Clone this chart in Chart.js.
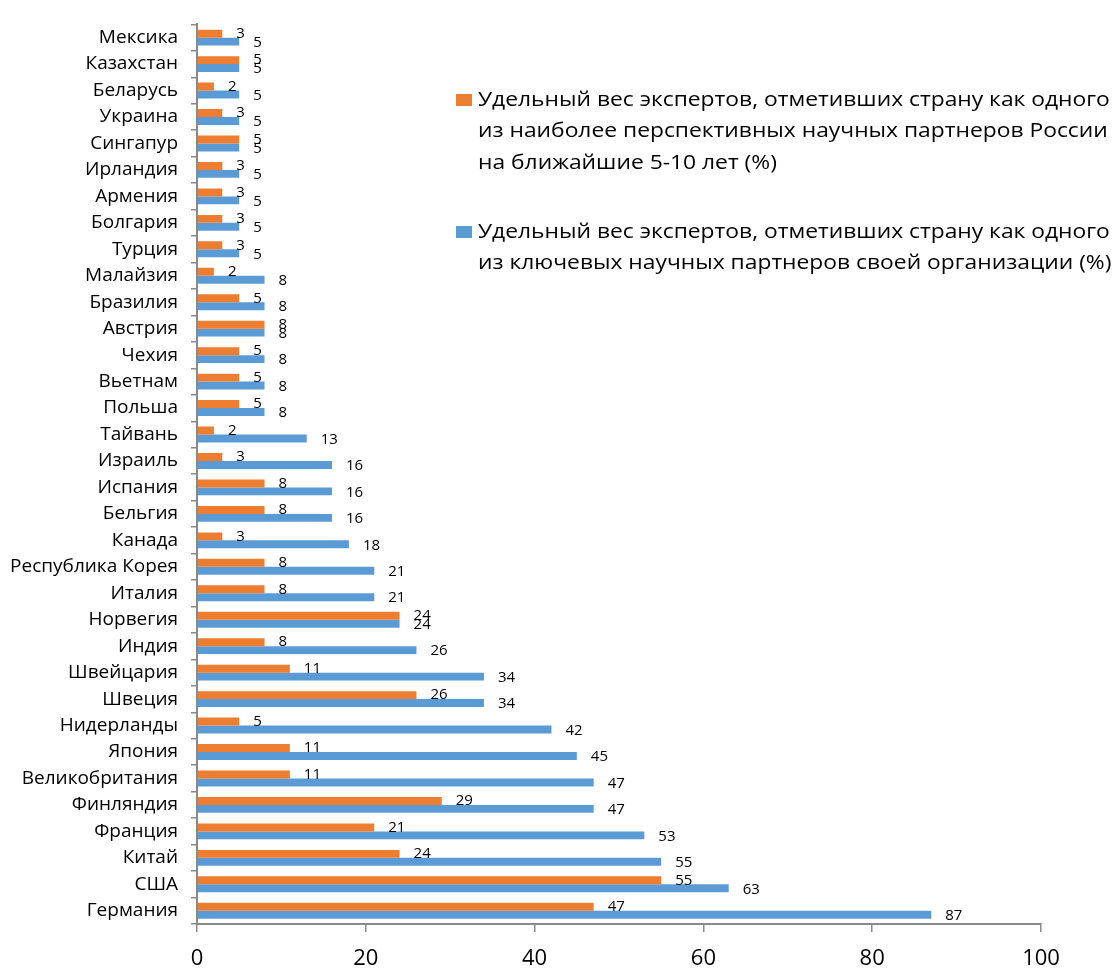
<!DOCTYPE html>
<html>
<head>
<meta charset="utf-8">
<script src="https://cdn.jsdelivr.net/npm/chart.js@4/dist/chart.umd.min.js"></script>
<style>
  html, body { margin: 0; padding: 0; background: #fff; }
  #wrap { width: 1118px; height: 969px; }
</style>
</head>
<body>
<div id="wrap"><canvas id="chart" width="1118" height="969"></canvas></div>
<script>
// countries, top to bottom
var countries = ["Мексика", "Казахстан", "Беларусь", "Украина", "Сингапур", "Ирландия", "Армения",
  "Болгария", "Турция", "Малайзия", "Бразилия", "Австрия", "Чехия", "Вьетнам", "Польша", "Тайвань",
  "Израиль", "Испания", "Бельгия", "Канада", "Республика Корея", "Италия", "Норвегия", "Индия",
  "Швейцария", "Швеция", "Нидерланды", "Япония", "Великобритания", "Финляндия", "Франция", "Китай",
  "США", "Германия"];

// orange: promising partners of Russia for the next 5-10 years (%)
var perspective = [3, 5, 2, 3, 5, 3, 3, 3, 3, 2, 5, 8, 5, 5, 5, 2, 3, 8, 8, 3, 8, 8, 24, 8,
  11, 26, 5, 11, 11, 29, 21, 24, 55, 47];

// blue: key partners of own organisation (%)
var keyPartners = [5, 5, 5, 5, 5, 5, 5, 5, 5, 8, 8, 8, 8, 8, 8, 13, 16, 16, 16, 18, 21, 21, 24, 26,
  34, 34, 42, 45, 47, 47, 53, 55, 63, 87];

var xTicks = [0, 20, 40, 60, 80, 100];

var perspectiveLabel = ["Удельный вес экспертов, отметивших страну как одного",
  "из наиболее перспективных научных партнеров России",
  "на ближайшие 5-10 лет (%)"];
var keyLabel = ["Удельный вес экспертов, отметивших страну как одного",
  "из ключевых научных партнеров своей организации (%)"];

var ORANGE = "#ED7D31", BLUE = "#5B9BD5", AXIS = "#898989";
var FONT = "'Open Sans', 'Liberation Sans', sans-serif";

// value labels just past the end of each bar
var valueLabels = {
  id: "valueLabels",
  afterDatasetsDraw: function (chart) {
    var ctx = chart.ctx;
    ctx.save();
    ctx.font = "15px " + FONT;
    ctx.fillStyle = "#000";
    ctx.textAlign = "left";
    ctx.textBaseline = "middle";
    chart.data.datasets.forEach(function (ds, i) {
      chart.getDatasetMeta(i).data.forEach(function (bar, j) {
        ctx.fillText(ds.data[j], bar.x + 14, bar.y + (i ? 1 : 0));
      });
    });
    ctx.restore();
  }
};

// wrapped legend on the right, drawn over the plot (text is a bit stretched, like the original)
var sideLegend = {
  id: "sideLegend",
  afterDraw: function (chart) {
    var ctx = chart.ctx;
    var tops = [100, 232];
    ctx.save();
    ctx.font = "19.5px " + FONT;
    ctx.textAlign = "left";
    ctx.textBaseline = "middle";
    chart.data.datasets.forEach(function (ds, i) {
      var y0 = tops[i];
      ctx.fillStyle = ds.backgroundColor;
      ctx.fillRect(456, y0 - 6, 16, 12);
      ctx.fillStyle = "#000";
      ds.label.forEach(function (line, k) {
        ctx.save();
        ctx.translate(478, y0 + k * 31.5);
        ctx.scale(1.17, 1);
        ctx.fillText(line, 0, 0);
        ctx.restore();
      });
    });
    ctx.restore();
  }
};

new Chart(document.getElementById("chart"), {
  type: "bar",
  data: {
    labels: countries,
    datasets: [{
      label: perspectiveLabel,
      data: perspective,
      backgroundColor: ORANGE,
      categoryPercentage: 0.6,
      barPercentage: 1
    }, {
      label: keyLabel,
      data: keyPartners,
      backgroundColor: BLUE,
      categoryPercentage: 0.6,
      barPercentage: 1
    }]
  },
  options: {
    indexAxis: "y",
    responsive: false,
    animation: false,
    devicePixelRatio: 1,
    layout: { padding: { left: 0, right: 77, top: 15, bottom: 0 } },
    plugins: {
      legend: { display: false },
      tooltip: { enabled: false }
    },
    scales: {
      y: {
        grid: { offset: true, drawOnChartArea: false, drawTicks: true, tickLength: 6, color: AXIS, lineWidth: 1.5 },
        border: { color: AXIS, width: 2 },
        ticks: { color: "#000", font: { family: FONT, size: 19 }, padding: 13 },
        afterFit: function (s) { s.width = 197; }
      },
      x: {
        min: 0,
        max: 100,
        afterBuildTicks: function (s) { s.ticks = xTicks.map(function (v) { return { value: v }; }); },
        grid: { drawOnChartArea: false, drawTicks: true, tickLength: 8, color: AXIS, lineWidth: 1.5 },
        border: { color: AXIS, width: 2 },
        ticks: { color: "#000", font: { family: FONT, size: 22 }, padding: 14, maxRotation: 0 },
        afterFit: function (s) { s.height = 45; }
      }
    }
  },
  plugins: [valueLabels, sideLegend]
});
</script>
</body>
</html>
